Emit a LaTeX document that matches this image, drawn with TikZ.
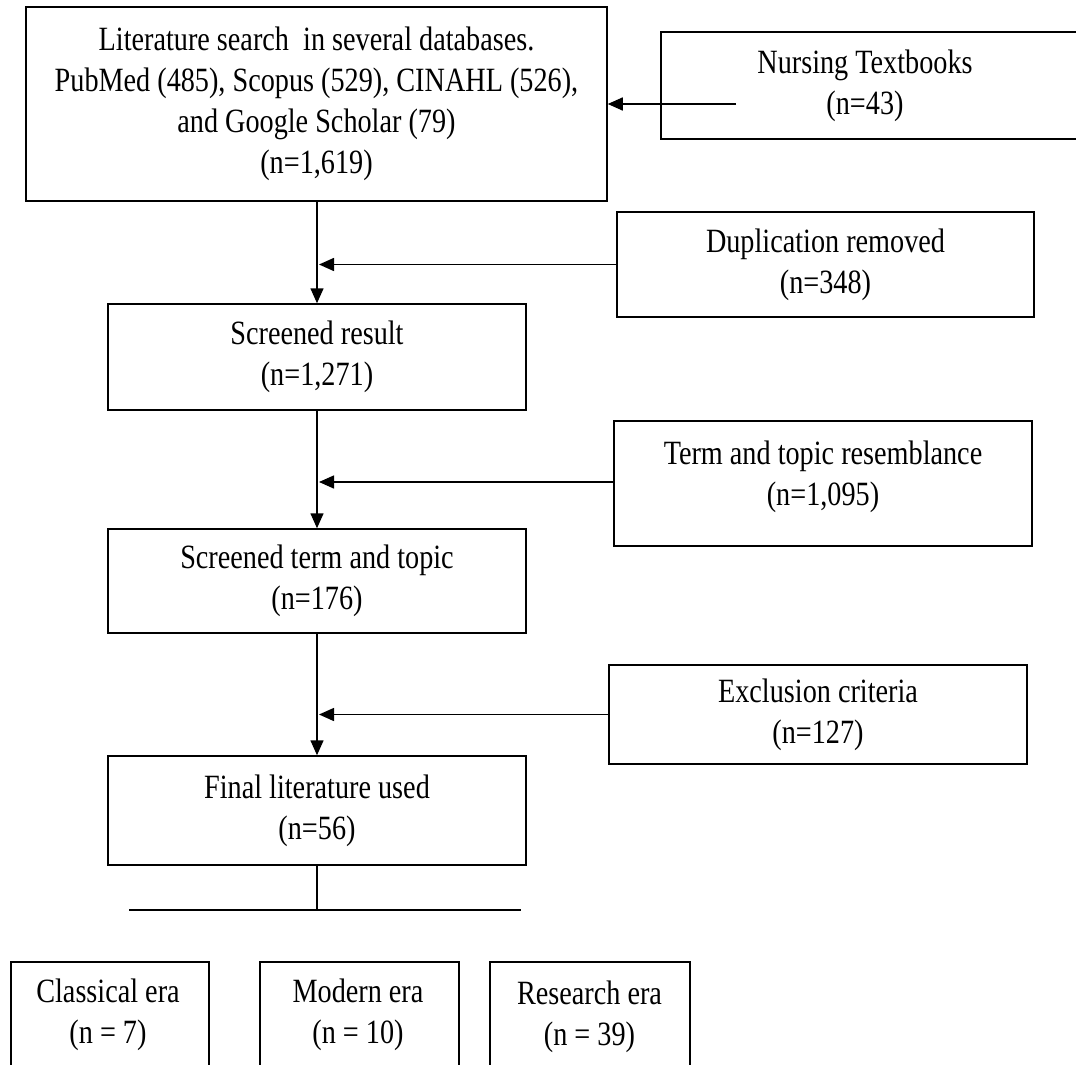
\documentclass[tikz,border=0pt]{standalone}
\usepackage{fontspec}
\setmainfont[FakeStretch=0.83]{Liberation Serif}
\usetikzlibrary{arrows.meta}
\tikzset{
  box/.style={draw, line width=1.5pt, inner sep=0pt, align=center, font=\fontsize{34}{41}\selectfont},
  txt/.style={inner sep=0pt, align=center, font=\fontsize{34}{41}\selectfont},
  conn/.style={line width=1.5pt},
  arr/.style={conn, -{Triangle[length=15pt,width=13pt]}},
}
\begin{document}
\begin{tikzpicture}[x=1pt,y=-1pt]
\useasboundingbox (0,0) rectangle (1076,1065);
\fill[white] (0,0) rectangle (1076,1065);
\clip (0,0) rectangle (1076,1065);

% main flow boxes
\node[box, minimum width=581pt, minimum height=194pt] (top) at (316.5,104)
  {Literature search~ in several databases.\\PubMed (485), Scopus (529), CINAHL (526),\\and Google Scholar (79)\\(n=1,619)};
\node[box, minimum width=418pt, minimum height=106pt] (scr) at (317,357)
  {Screened result\\(n=1,271)};
\node[box, minimum width=418pt, minimum height=104pt] (scrt) at (317,581)
  {Screened term and topic\\(n=176)};
\node[box, minimum width=418pt, minimum height=109pt] (final) at (317,810.5)
  {Final literature used\\(n=56)};

% side boxes
\node[box, minimum width=429pt, minimum height=107pt] (nurs) at (875.5,85.5) {};
\node[txt] (nurstxt) at (865,86) {Nursing Textbooks\\(n=43)};
\node[box, minimum width=417pt, minimum height=105pt] (dup) at (825.5,264.5)
  {Duplication removed\\(n=348)};
\node[box, minimum width=418pt, minimum height=125pt] (term) at (823,483.5) {};
\node[txt] (termtxt) at (823,477) {Term and topic resemblance\\(n=1,095)};
\node[box, minimum width=418pt, minimum height=99pt] (excl) at (818,714.5)
  {Exclusion criteria\\(n=127)};

% era boxes (cut by the lower edge)
\node[box, minimum width=198pt, minimum height=138pt] (cls) at (110,1031) {};
\node[txt] (clstxt) at (108,1015) {Classical era\\(n = 7)};
\node[box, minimum width=199pt, minimum height=138pt] (mod) at (359.5,1031) {};
\node[txt] (modtxt) at (358,1015) {Modern era\\(n = 10)};
\node[box, minimum width=200pt, minimum height=138pt] (res) at (590,1031) {};
\node[txt] (restxt) at (589.5,1017) {Research era\\(n = 39)};

% connectors
\draw[arr] (scr.north |- top.south) -- (scr.north);
\draw[arr] (scr.south) -- (scrt.north);
\draw[arr] (scrt.south) -- (final.north);

\coordinate (nstart) at (736,104);
\draw[arr] (nstart) -- (top.east);
\draw[arr] (dup.west) -- ([xshift=2pt]dup.west -| scr.north);
\draw[arr] (term.west |- 0,482) -- ([xshift=2pt]scr.south |- 0,482);
\draw[arr] (excl.west) -- ([xshift=2pt]excl.west -| scr.north);

\coordinate (hl1) at (129,910);
\coordinate (hl2) at (521,910);
\draw[conn] (final.south) -- (final.south |- hl1);
\draw[conn] (hl1) -- (hl2);
\end{tikzpicture}
\end{document}
